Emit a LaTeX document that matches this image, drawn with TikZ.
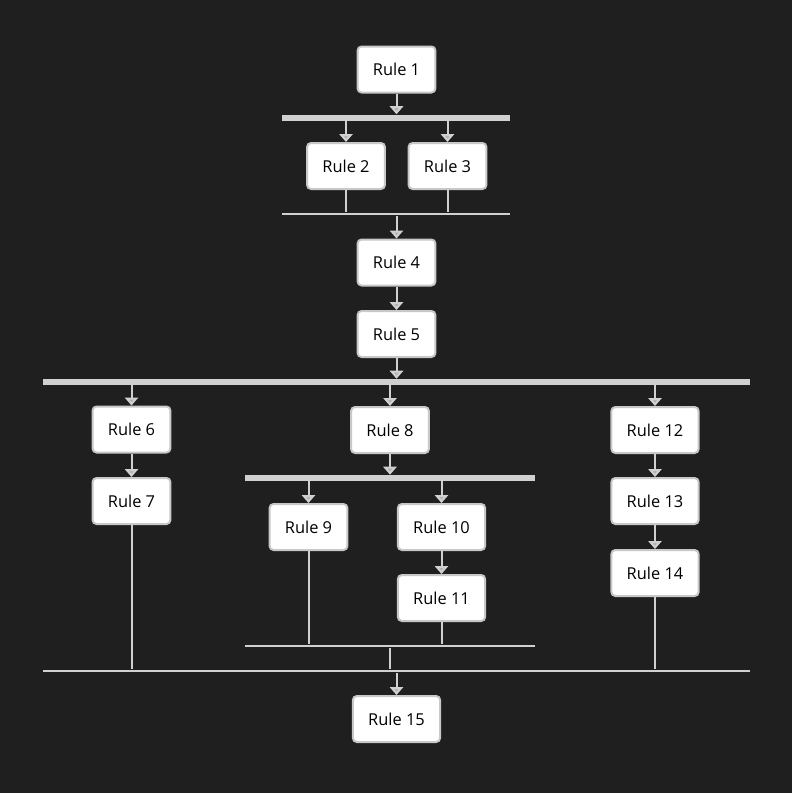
\documentclass[tikz,border=0pt]{standalone}
\usepackage{fontspec}
\setmainfont{Open Sans}
\usepackage{tikz}
\usetikzlibrary{arrows.meta,calc,positioning}
\definecolor{bgcol}{HTML}{1F1F1F}
\definecolor{barcol}{HTML}{D0D0D0}
\definecolor{edgecol}{HTML}{C8C8C8}
\tikzset{every picture/.style={
  >={Triangle[width=10pt,length=6pt,fill=barcol!85!black]} % open-looking arrow tips.
  }
}

\begin{document}
\begin{tikzpicture}[
    x=0.75pt,y=-0.75pt,
    rule/.style={
      rectangle,
      rounded corners=3pt,
      draw=edgecol,
      line width=1.5pt,
      fill=white,
      text=black,
      font=\fontsize{12.3}{14}\selectfont,
      inner xsep=11.5pt,
      minimum height=34.5pt
    },
    forkbar/.style={
      rectangle,
      fill=barcol,
      inner sep=0pt,
      minimum height=4.5pt
    },
    joinbar/.style={
      rectangle,
      fill=barcol,
      inner sep=0pt,
      minimum height=2pt
    },
    link/.style={
      draw=barcol,
      line width=1.5pt
    }]

    % Background and page size.
    \fill[bgcol] (0,0) rectangle (792,793);
    \useasboundingbox (0,0) rectangle (792,793);

    % The rules.
    \node[rule] (r1)  at (396.5,69.5) {Rule 1};
    \node[rule] (r2)  at (346,166)    {Rule 2};
    \node[rule] (r3)  at (447.5,166)  {Rule 3};
    \node[rule] (r4)  at (396.5,262.5) {Rule 4};
    \node[rule] (r5)  at (396.5,334)  {Rule 5};
    \node[rule] (r6)  at (131.5,429.5) {Rule 6};
    \node[rule] (r7)  at (131.5,501)  {Rule 7};
    \node[rule] (r8)  at (390,430)    {Rule 8};
    \node[rule] (r9)  at (308.5,527)  {Rule 9};
    \node[rule] (r10) at (441.5,527)  {Rule 10};
    \node[rule] (r11) at (441.5,598)  {Rule 11};
    \node[rule] (r12) at (655,430)    {Rule 12};
    \node[rule] (r13) at (655,501)    {Rule 13};
    \node[rule] (r14) at (655,573)    {Rule 14};
    \node[rule] (r15) at (396.5,719)  {Rule 15};

    % Fork and join bars.
    \node[forkbar,minimum width=171pt]    (fb1) at (396,117.5) {};
    \node[joinbar,minimum width=171pt]    (jb1) at (396,214)   {};
    \node[forkbar,minimum width=530.25pt] (fb2) at (396.5,382) {};
    \node[forkbar,minimum width=217.5pt]  (fb3) at (390,478)   {};
    \node[joinbar,minimum width=217.5pt]  (jb2) at (390,646)   {};
    \node[joinbar,minimum width=530.25pt] (jb3) at (396.5,671) {};

    % Top part.
    \draw[link,->] (r1) -- (r1 |- fb1.north);
    \draw[link,->] (fb1.south -| r2) -- (r2);
    \draw[link,->] (fb1.south -| r3) -- (r3);
    \draw[link] (r2) -- (r2 |- jb1.north);
    \draw[link] (r3) -- (r3 |- jb1.north);
    \draw[link,->] (jb1.south -| r4) -- (r4);
    \draw[link,->] (r4) -- (r5);
    \draw[link,->] (r5) -- (r5 |- fb2.north);

    % Three branches.
    \draw[link,->] (fb2.south -| r6) -- (r6);
    \draw[link,->] (r6) -- (r7);
    \draw[link] (r7) -- (r7 |- jb3.north);

    \draw[link,->] (fb2.south -| r8) -- (r8);
    \draw[link,->] (r8) -- (r8 |- fb3.north);
    \draw[link,->] (fb3.south -| r9) -- (r9);
    \draw[link,->] (fb3.south -| r10) -- (r10);
    \draw[link,->] (r10) -- (r11);
    \draw[link] (r9) -- (r9 |- jb2.north);
    \draw[link] (r11) -- (r11 |- jb2.north);
    \draw[link] (jb2.south) -- (jb2.south |- jb3.north);

    \draw[link,->] (fb2.south -| r12) -- (r12);
    \draw[link,->] (r12) -- (r13);
    \draw[link,->] (r13) -- (r14);
    \draw[link] (r14) -- (r14 |- jb3.north);

    % Final rule.
    \draw[link,->] (jb3.south -| r15) -- (r15);
  \end{tikzpicture}
\end{document}
